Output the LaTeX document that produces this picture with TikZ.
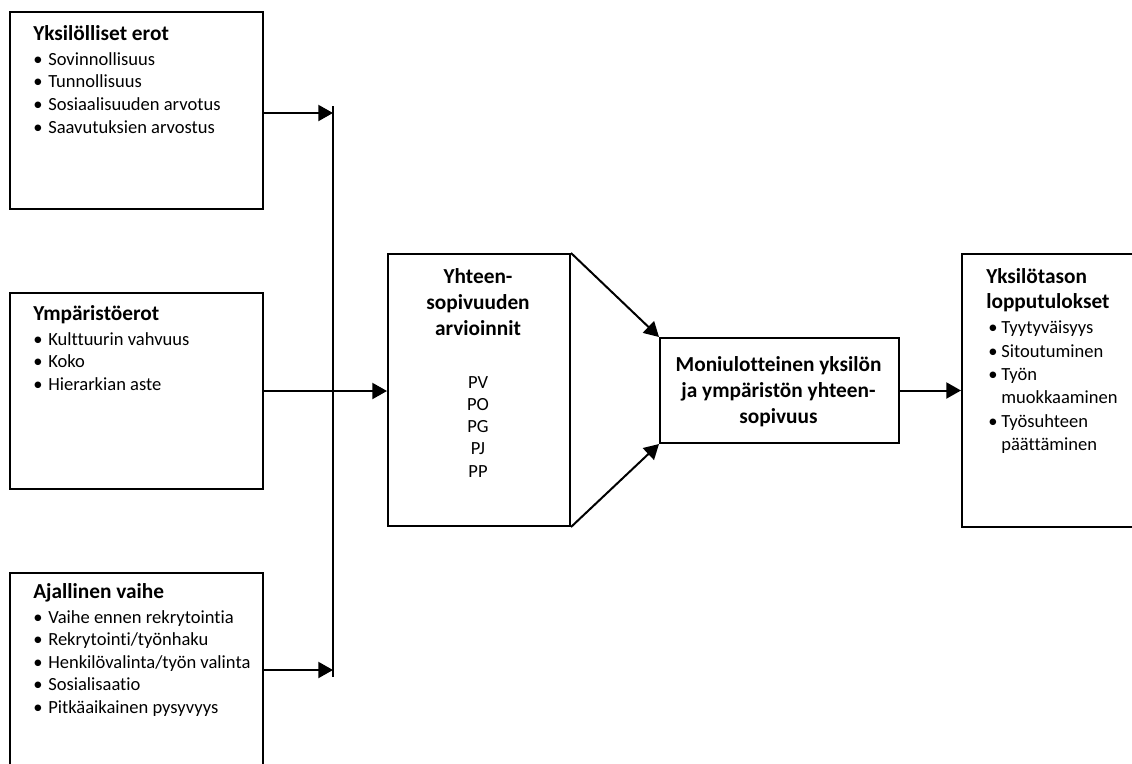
\documentclass[tikz,border=0pt]{standalone}
\usepackage{fontspec}
\setmainfont[Ligatures={NoCommon,NoRare,NoContextual}]{Carlito}
\usetikzlibrary{arrows.meta}
\begin{document}
\begin{tikzpicture}[x=0.75pt,y=-0.75pt,
  box/.style={draw=black, line width=1.5pt, inner sep=0pt, anchor=north west},
  conn/.style={line width=1.5pt, -{Triangle[length=11pt,width=12pt]}},
  bar/.style={line width=1.5pt},
  ttl/.style={inner sep=0pt, font=\fontsize{16}{19.5}\selectfont\bfseries},
  itm/.style={inner sep=0pt, anchor=base west, font=\fontsize{13.9}{17}\selectfont},
  ttlw/.style={ttl, anchor=base west},
  ttlc/.style={ttl, anchor=base},
  itmc/.style={itm, anchor=base}]
\useasboundingbox (0,0) rectangle (1132,764);
% boxes
\node[box, minimum width=253*0.75pt, minimum height=197*0.75pt] (b1) at (9,11) {};
\node[box, minimum width=253*0.75pt, minimum height=196*0.75pt] (b2) at (9,292) {};
\node[box, minimum width=253*0.75pt, minimum height=205*0.75pt] (b3) at (9,572) {};
\node[box, minimum width=182*0.75pt, minimum height=272*0.75pt] (ya) at (387,253) {};
\node[box, minimum width=239*0.75pt, minimum height=105*0.75pt] (m) at (659,337) {};
\node[box, minimum width=185*0.75pt, minimum height=273*0.75pt] (yo) at (961,253) {};
% box 1 text
\node[ttlw] (t1) at (33,40) {Yksilölliset erot};
\node[itm] (t1a) at (33,65) {•}; \node[itm] (t1b) at (48,65) {Sovinnollisuus};
\node[itm] (t1c) at (33,87.5) {•}; \node[itm] (t1d) at (48,87.5) {Tunnollisuus};
\node[itm] (t1e) at (33,110) {•}; \node[itm] (t1f) at (48,110) {Sosiaalisuuden arvotus};
\node[itm] (t1g) at (33,133) {•}; \node[itm] (t1h) at (48,133) {Saavutuksien arvostus};
% box 2 text
\node[ttlw] (t2) at (33,320) {Ympäristöerot};
\node[itm] (t2a) at (33,345) {•}; \node[itm] (t2b) at (48,345) {Kulttuurin vahvuus};
\node[itm] (t2c) at (33,367.5) {•}; \node[itm] (t2d) at (48,367.5) {Koko};
\node[itm] (t2e) at (33,390) {•}; \node[itm] (t2f) at (48,390) {Hierarkian aste};
% box 3 text
\node[ttlw] (t3) at (33,598) {Ajallinen vaihe};
\node[itm] (t3a) at (33,623) {•}; \node[itm] (t3b) at (48,623) {Vaihe ennen rekrytointia};
\node[itm] (t3c) at (33,645.5) {•}; \node[itm] (t3d) at (48,645.5) {Rekrytointi/työnhaku};
\node[itm] (t3e) at (33,668) {•}; \node[itm] (t3f) at (48,668) {Henkilövalinta/työn valinta};
\node[itm] (t3g) at (33,690.5) {•}; \node[itm] (t3h) at (48,690.5) {Sosialisaatio};
\node[itm] (t3i) at (33,713) {•}; \node[itm] (t3j) at (48,713) {Pitkäaikainen pysyvyys};
% middle box text
\node[ttlc] (t4a) at (478,283) {Yhteen-};
\node[ttlc] (t4b) at (478,309) {sopivuuden};
\node[ttlc] (t4c) at (478,335) {arvioinnit};
\node[itmc] (t4d) at (478,388) {PV};
\node[itmc] (t4e) at (478,410) {PO};
\node[itmc] (t4f) at (478,432) {PG};
\node[itmc] (t4g) at (478,454.5) {PJ};
\node[itmc] (t4h) at (478,477) {PP};
% M box text
\node[ttlc] (t5a) at (778.5,371) {Moniulotteinen yksilön};
\node[ttlc] (t5b) at (778.5,397) {ja ympäristön yhteen-};
\node[ttlc] (t5c) at (778.5,423) {sopivuus};
% outcome box text
\node[ttlw] (t6a) at (986,283) {Yksilötason};
\node[ttlw] (t6b) at (986,308) {lopputulokset};
\node[itm] (t6c) at (988,333) {•}; \node[itm] (t6d) at (1001,333) {Tyytyväisyys};
\node[itm] (t6e) at (988,357) {•}; \node[itm] (t6f) at (1001,357) {Sitoutuminen};
\node[itm] (t6g) at (988,380) {•}; \node[itm] (t6h) at (1001,380) {Työn};
\node[itm] (t6i) at (1001,403) {muokkaaminen};
\node[itm] (t6j) at (988,427) {•}; \node[itm] (t6k) at (1001,427) {Työsuhteen};
\node[itm] (t6l) at (1001,450) {päättäminen};
% connectors
\coordinate (jt) at (333,106);
\coordinate (jb) at (333,677);
\coordinate (a1) at (333,113);
\coordinate (a3) at (333,670);
\draw[bar] (jt) -- (jb);
\draw[conn] (b1.east |- a1) -- (a1);
\draw[conn] (b3.east |- a3) -- (a3);
\draw[conn] (b2.east) -- (ya.west |- b2.east);
\draw[conn] (ya.north east) -- (m.north west);
\draw[conn] (ya.south east) -- (m.south west);
\draw[conn] (m.east) -- (yo.west |- m.east);
\end{tikzpicture}
\end{document}
